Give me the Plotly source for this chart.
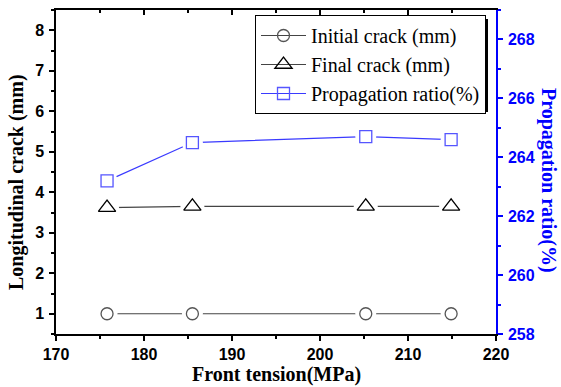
import plotly.graph_objects as go

# ---- data ----
front_tension = [175.8, 185.5, 205.2, 214.9]
initial_crack = [1.0, 1.0, 1.0, 1.0]
final_crack = [3.62, 3.65, 3.65, 3.65]
propagation_ratio = [263.2, 264.5, 264.7, 264.6]

x_ticks = [170, 180, 190, 200, 210, 220]
y_ticks = [1, 2, 3, 4, 5, 6, 7, 8]
y2_ticks = [258, 260, 262, 264, 266, 268]

W, H = 561, 387
L, R, T, B = 56, 65, 10, 53
PW, PH = W - L - R, H - T - B

def px(x):
    return (x - L) / PW

def py(y):
    return (H - B - y) / PH

SANS = "Liberation Sans"
SERIF = "Liberation Serif"
BLUE = "#0000ff"

fig = go.Figure()

series = [
    ("Initial crack (mm)", initial_crack, "y", "circle-open", 12, "#444444", "#555555"),
    ("Final crack (mm)", final_crack, "y", "triangle-up-open", 15, "#444444", "#000000"),
    ("Propagation ratio(%)", propagation_ratio, "y2", "square-open", 12, "#3a3aff", "#5555ff"),
]

for name, vals, yax, sym, size, lc, mc in series:
    fig.add_trace(go.Scatter(x=front_tension, y=vals, yaxis=yax, mode="lines",
                             line=dict(color=lc, width=1.2), showlegend=False, hoverinfo="skip"))
    fig.add_trace(go.Scatter(x=front_tension, y=vals, yaxis=yax, mode="markers",
                             marker=dict(symbol="circle", size=size + 9, color="white",
                                         line=dict(width=0)), showlegend=False, hoverinfo="skip"))
    fig.add_trace(go.Scatter(x=front_tension, y=vals, yaxis=yax, mode="markers",
                             marker=dict(symbol=sym, size=size, color=mc, line=dict(width=1.3, color=mc)),
                             showlegend=False))
    fig.add_trace(go.Scatter(x=[None], y=[None], yaxis=yax, mode="lines+markers", name=name,
                             line=dict(color=lc, width=1.2),
                             marker=dict(symbol=sym, size=size, color=mc, line=dict(width=1.3, color=mc))))

# helper trace for top axis
fig.add_trace(go.Scatter(x=[None], y=[None], xaxis="x2", yaxis="y", showlegend=False, hoverinfo="skip"))

def bold(vals):
    return ["<b>%s</b>" % v for v in vals]

tickfont = dict(family=SANS, size=16, color="black")

fig.update_layout(
    width=W, height=H,
    margin=dict(l=L, r=R, t=T, b=B),
    paper_bgcolor="white", plot_bgcolor="white",
    showlegend=True,
    xaxis=dict(range=[170, 220], tickvals=x_ticks, ticktext=bold(x_ticks), ticks="outside", ticklen=5, tickwidth=1.5,
               tickcolor="black", showline=True, linecolor="black", linewidth=1.5,
               showgrid=False, zeroline=False, tickfont=tickfont,
               minor=dict(dtick=5, ticks="outside", ticklen=3, tickwidth=1.5, tickcolor="black", showgrid=False)),
    xaxis2=dict(range=[170, 220], overlaying="x", side="top", tickvals=x_ticks, ticks="inside",
                ticklen=5, tickwidth=1.5, tickcolor="black", showline=True, linecolor="black",
                linewidth=1.5, showgrid=False, zeroline=False, showticklabels=False,
                minor=dict(dtick=5, ticks="inside", ticklen=3, tickwidth=1.5, tickcolor="black", showgrid=False)),
    yaxis=dict(range=[0.5, 8.5], tickvals=y_ticks, ticktext=bold(y_ticks), ticks="outside", ticklen=5, tickwidth=1.5,
               tickcolor="black", showline=True, linecolor="black", linewidth=1.5,
               showgrid=False, zeroline=False, tickfont=tickfont, ticklabelstandoff=2,
               minor=dict(dtick=0.5, ticks="outside", ticklen=3, tickwidth=1.5, tickcolor="black", showgrid=False)),
    yaxis2=dict(range=[258, 269], overlaying="y", side="right", tickvals=y2_ticks, ticktext=bold(y2_ticks),
                ticks="outside",
                ticklen=5, tickwidth=1.5, tickcolor=BLUE, showline=True, linecolor=BLUE, linewidth=1.5,
                showgrid=False, zeroline=False,
                tickfont=dict(family=SANS, size=16, color=BLUE),
                ticklabelstandoff=2,
                minor=dict(dtick=1, ticks="outside", ticklen=3, tickwidth=1.5, tickcolor=BLUE, showgrid=False)),
    legend=dict(x=px(255), y=py(15), xanchor="left", yanchor="top", itemwidth=45,
                bgcolor="white", bordercolor="black", borderwidth=1,
                font=dict(family=SERIF, size=20, color="black"), tracegroupgap=0),
    shapes=[
        dict(type="rect", xref="paper", yref="paper", x0=px(259), x1=px(488), y0=py(112), y1=py(19),
             fillcolor="black", line=dict(width=0), layer="above"),
    ],
    annotations=[
        dict(text="<b>Front tension(MPa)</b>", xref="paper", yref="paper", x=px(276), y=py(375),
             xanchor="center", yanchor="middle", showarrow=False,
             font=dict(family=SERIF, size=20, color="black")),
        dict(text="<b>Longitudinal crack (mm)</b>", xref="paper", yref="paper", x=px(16), y=py(182),
             xanchor="center", yanchor="middle", showarrow=False, textangle=-90,
             font=dict(family=SERIF, size=20, color="black")),
        dict(text="<b>Propagation ratio(%)</b>", xref="paper", yref="paper", x=px(549), y=py(180),
             xanchor="center", yanchor="middle", showarrow=False, textangle=90,
             font=dict(family=SERIF, size=20, color=BLUE)),
    ],
)

fig.write_html("out.html")
